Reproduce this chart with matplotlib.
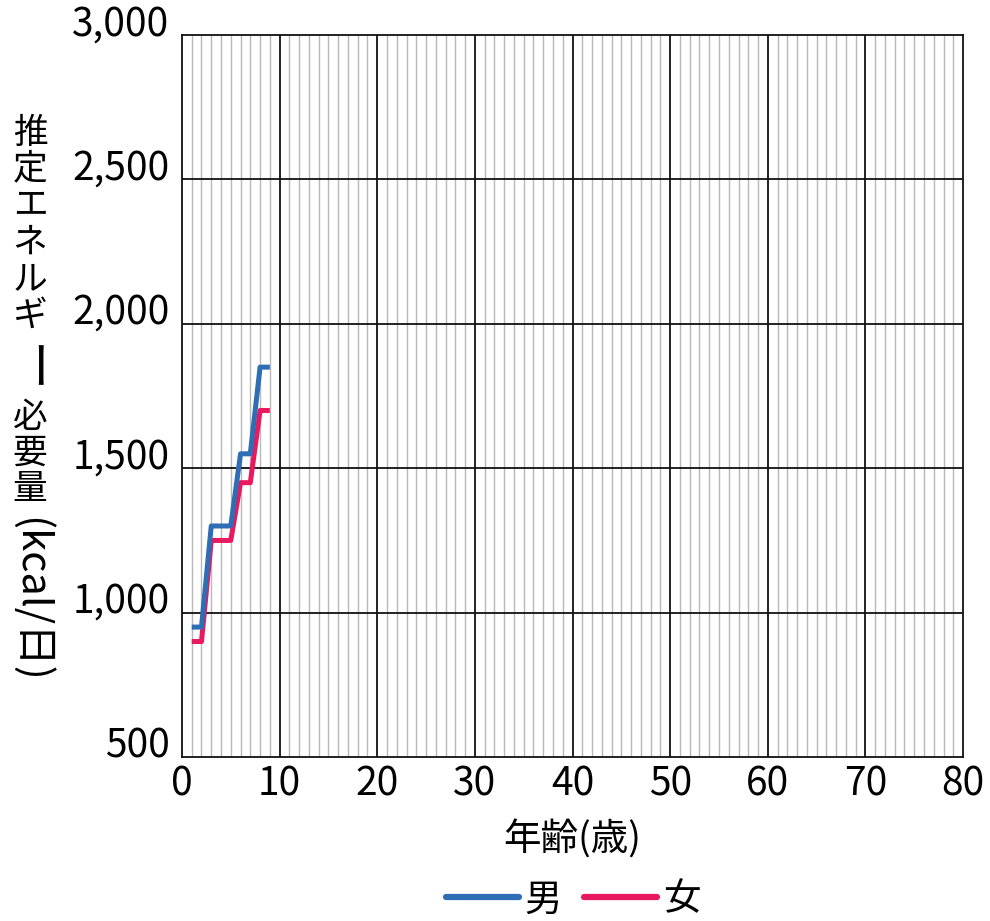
import matplotlib
matplotlib.use("Agg")
import matplotlib.pyplot as plt
from matplotlib.transforms import ScaledTranslation
from matplotlib.lines import Line2D

plt.rcParams['font.family'] = ['Noto Sans CJK JP', 'DejaVu Sans']

# 推定エネルギー必要量 (身体活動レベルII)
age = [1, 2, 3, 5, 6, 7, 8, 9]
male = [950, 950, 1300, 1300, 1550, 1550, 1850, 1850]
female = [900, 900, 1250, 1250, 1450, 1450, 1700, 1700]

x_ticks = [0, 10, 20, 30, 40, 50, 60, 70, 80]
y_ticks = [500, 1000, 1500, 2000, 2500, 3000]
y_ticklabels = ['500', '1,000', '1,500', '2,000', '2,500', '3,000']

blue = '#2f6db5'
red = '#e8195e'

fig = plt.figure(figsize=(9.9, 9.21), dpi=100)
ax = fig.add_axes([0.1838, 0.178, 0.789, 0.784])

ax.set_xlim(0, 80)
ax.set_ylim(500, 3000)

# 細い縦線 (1歳ごと)
for a in range(1, 80):
    if a % 10:
        ax.axvline(a, color='#b8b8b8', lw=1.0, zorder=1)
for a in x_ticks[1:-1]:
    ax.axvline(a, color='#111111', lw=1.3, zorder=2)
for v in y_ticks[1:-1]:
    ax.axhline(v, color='#111111', lw=1.3, zorder=2)

ax.plot(age, male, color=blue, lw=3.6, solid_capstyle='butt', zorder=4)
ax.plot(age, female, color=red, lw=3.6, solid_capstyle='butt', zorder=3)

for s in ax.spines.values():
    s.set_color('#111111')
    s.set_linewidth(1.3)

ax.set_xticks(x_ticks)
ax.set_xticklabels([str(v) for v in x_ticks], fontsize=28)
ax.set_yticks(y_ticks)
ax.set_yticklabels(y_ticklabels, fontsize=28)
ax.tick_params(length=0, pad=9)
ax.tick_params(axis='x', pad=5)
shift = ScaledTranslation(0, 11 / 72, fig.dpi_scale_trans)
for lab in ax.get_yticklabels():
    lab.set_transform(lab.get_transform() + shift)

ax.text(0.5, -0.115, '年齢(歳)', transform=ax.transAxes, ha='center',
        va='center', fontsize=27)

# 縦書きの軸ラベル
xl = 30 / 990
for c, y in zip('推定エネルギ', [133, 169, 206, 243, 280, 316]):
    fig.text(xl, 1 - y / 921, c, ha='center', va='center', fontsize=25)
fig.text(xl, 1 - 369 / 921, 'ー', ha='center', va='center',
         fontsize=36, rotation=-90)
for c, y in zip('必要量', [417, 453, 489]):
    fig.text(xl, 1 - y / 921, c, ha='center', va='center', fontsize=25)
fig.text(xl, 1 - 600 / 921, '(kcal/日)', ha='center', va='center',
         fontsize=30, rotation=-90)

handles = [Line2D([], [], color=blue, lw=4.5, solid_capstyle='round'),
           Line2D([], [], color=red, lw=4.5, solid_capstyle='round')]
fig.legend(handles, ['男', '女'], loc='center', bbox_to_anchor=(573 / 990, 1 - 900 / 921),
           ncol=2, frameon=False, fontsize=27, handlelength=1.95,
           handletextpad=0.15, columnspacing=0.6)

fig.savefig('out.png', dpi=100)
